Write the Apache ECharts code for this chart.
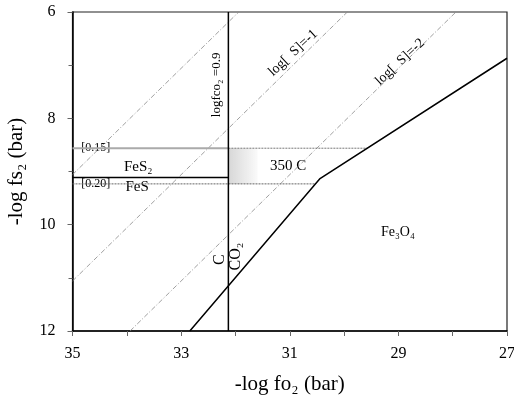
<!DOCTYPE html>
<html>
<head>
<meta charset="utf-8">
<script src="https://cdn.jsdelivr.net/npm/echarts@6/dist/echarts.min.js"></script>
<style>
  html, body { margin: 0; padding: 0; background: #fff; }
  #chart-container { width: 514px; height: 397px; }
</style>
</head>
<body>
<div id="chart-container"></div>
<script>
// x = -log fO2, y = -log fS2
const xTicks = [27, 29, 31, 33, 35];
const yTicks = [6, 8, 10, 12];

const co2Line = [[32.13, 6], [32.13, 12]];
const magBoundary = [[32.84, 12], [30.45, 9.14], [27, 6.87]];
const fes2FesLine = [[35, 9.115], [32.13, 9.115]];
const line015 = [[35, 8.562], [32.13, 8.562]];
const line015Ext = [[32.13, 8.562], [29.57, 8.562]];
const line020 = [[35, 9.233], [30.53, 9.233]];
const sLine0 = [[35, 9.06], [31.94, 6]];
const sLine1 = [[35, 11.06], [29.94, 6]];
const sLine2 = [[33.94, 12], [27.94, 6]];
const shadedBox = [[32.13, 8.562], [31.59, 9.233]];

// [x, y, text, rotate, fontSize, white background]
const labels = [
  [32.34, 7.37, 'logfco\u2082 =0.9', 90, 13, false],
  [30.94, 6.77, 'log[  S]=-1', 43, 14, false],
  [28.97, 6.94, 'log[  S]=-2', 43, 14, false],
  [34.57, 8.562, '[0.15]', 0, 12, true],
  [33.79, 8.91, 'FeS\u2082', 0, 15, false],
  [34.57, 9.233, '[0.20]', 0, 12, true],
  [33.81, 9.30, 'FeS', 0, 15, true],
  [31.03, 8.895, '350 C', 0, 15, false],
  [29.01, 10.15, 'Fe\u2083O\u2084', 0, 14, false],
  [32.29, 10.66, 'C', 90, 16, false],
  [32.0, 10.6, 'CO\u2082', 90, 16, false]
];

const serif = 'Liberation Serif';

function lineSeries(data, color, width, type) {
  return {
    type: 'line',
    data: data,
    symbol: 'none',
    silent: true,
    animation: false,
    lineStyle: { color: color, width: width, type: type || 'solid' }
  };
}

const chart = echarts.init(document.getElementById('chart-container'));

const options = {
  animation: false,
  grid: {
    left: 72.5, right: 7, top: 12, bottom: 66,
    outerBoundsMode: 'none',
    show: true, borderColor: '#222', borderWidth: 1.2
  },
  xAxis: {
    type: 'value',
    min: 27, max: 35, interval: 1,
    inverse: true,
    name: '-log fo\u2082 (bar)',
    nameLocation: 'middle',
    nameGap: 43,
    nameTextStyle: { fontFamily: serif, fontSize: 21, color: '#000' },
    axisLine: { lineStyle: { color: '#000', width: 1.5 } },
    axisTick: { length: 5, lineStyle: { color: '#666' } },
    axisLabel: {
      margin: 15, fontFamily: serif, fontSize: 16, color: '#000',
      formatter: v => (xTicks.indexOf(v) >= 0 ? String(v) : '')
    },
    splitLine: { show: false }
  },
  yAxis: {
    type: 'value',
    min: 6, max: 12, interval: 2,
    inverse: true,
    name: '-log fs\u2082 (bar)',
    nameLocation: 'middle',
    nameGap: 46,
    nameTextStyle: { fontFamily: serif, fontSize: 21, color: '#000' },
    axisLine: { lineStyle: { color: '#000', width: 1.5 } },
    axisTick: { length: 5, lineStyle: { color: '#666' } },
    minorTick: { show: true, splitNumber: 2, length: 4, lineStyle: { color: '#666' } },
    axisLabel: {
      margin: 17, fontFamily: serif, fontSize: 16, color: '#000',
      formatter: v => (yTicks.indexOf(v) >= 0 ? String(v) : '')
    },
    splitLine: { show: false }
  },
  series: [
    lineSeries(sLine0, '#888', 0.8, [5, 2, 1, 2]),
    lineSeries(sLine1, '#888', 0.8, [5, 2, 1, 2]),
    lineSeries(sLine2, '#888', 0.8, [5, 2, 1, 2]),
    lineSeries(line015, '#aaa', 2),
    lineSeries(line015Ext, '#777', 1, [2, 1]),
    lineSeries(line020, '#666', 1, [2, 1]),
    Object.assign(lineSeries(fes2FesLine, '#000', 1.5), {
      markArea: {
        silent: true,
        itemStyle: {
          color: new echarts.graphic.LinearGradient(0, 0, 1, 0, [
            { offset: 0, color: 'rgba(130,130,130,0.32)' },
            { offset: 1, color: 'rgba(130,130,130,0.04)' }
          ])
        },
        data: [[{ coord: shadedBox[0] }, { coord: shadedBox[1] }]]
      }
    }),
    lineSeries(co2Line, '#000', 1.5),
    lineSeries(magBoundary, '#000', 1.5),
    {
      type: 'scatter',
      silent: true,
      symbolSize: 0,
      itemStyle: { opacity: 1 },
      data: labels.map(l => ({
        value: [l[0], l[1]],
        label: {
          show: true,
          position: 'inside',
          formatter: l[2],
          rotate: l[3],
          fontSize: l[4],
          fontFamily: serif,
          color: '#000',
          textBorderWidth: 0,
          backgroundColor: l[5] ? '#fff' : 'transparent',
          padding: l[5] ? [0, 2] : 0
        }
      }))
    }
  ]
};

chart.setOption(options);
</script>
</body>
</html>
